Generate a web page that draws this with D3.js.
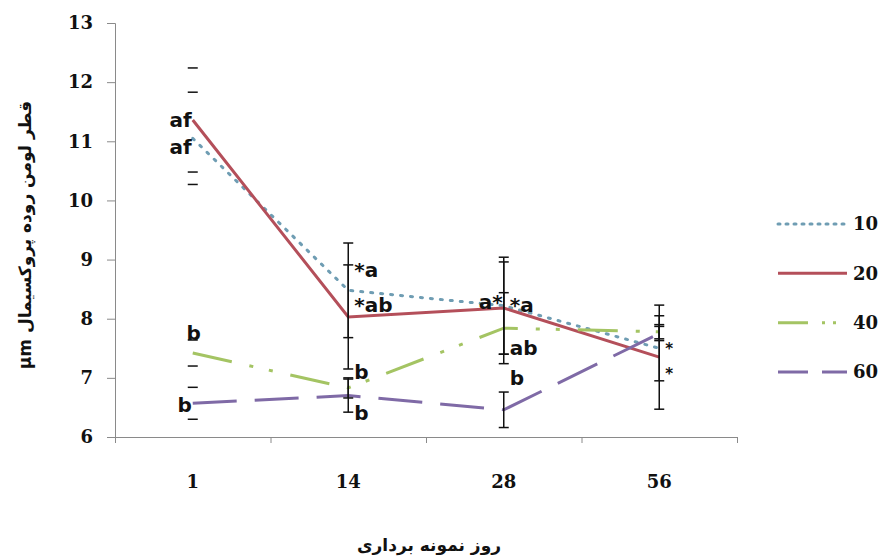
<!DOCTYPE html>
<html>
<head>
<meta charset="utf-8">
<script src="https://cdn.jsdelivr.net/npm/d3@7"></script>
<style>
  body { margin: 0; background: #fff; }
  svg { display: block; }
  .tick text { font-family: "DejaVu Serif", serif; font-weight: bold; fill: #111; }
  .sig { font-family: "DejaVu Sans", sans-serif; font-weight: bold; fill: #111; }
  .fa { font-family: "DejaVu Sans", sans-serif; font-weight: bold; fill: #111; }
</style>
</head>
<body>
<svg id="chart"></svg>
<script>
const days = ['1', '14', '28', '56']
const seriesNames = ['10', '20', '40', '60']

// mean lumen diameter per sampling day
const mean10 = [11.05, 8.48, 8.22, 7.5]
const mean20 = [11.36, 8.03, 8.18, 7.35]
const mean40 = [7.42, 6.83, 7.84, 7.78]
const mean60 = [6.57, 6.7, 6.46, 7.75]

// +/- error
const err10 = [0.78, 0.8, 0.82, 0.55]
const err20 = [0.88, 0.88, 0.78, 0.88]
const err40 = [0.22, 0.17, 0.6, 0.12]
const err60 = [0.27, 0.28, 0.3, 0.12]

const yTicks = [6, 7, 8, 9, 10, 11, 12, 13]

// significance letters: day, value where they sit, text, side of the bar
const sigDays   = ['1', '1', '1', '1', '14', '14', '14', '14', '28', '28', '28', '28', '56', '56']
const sigValues = [11.36, 10.9, 7.76, 6.54, 8.82, 8.23, 7.1, 6.41, 8.28, 8.23, 7.5, 7.0, 7.56, 7.14]
const sigTexts  = ['af', 'af', 'b', 'b', '*a', '*ab', 'b', 'b', 'a*', '*a', 'ab', 'b', '*', '*']
const sigSides  = ['left', 'left', 'mid', 'left', 'right', 'right', 'right', 'right', 'left', 'right', 'right', 'right', 'right', 'right']

const yTitle = 'قطر لومن روده پروکسیمال μm'
const xTitle = 'روز نمونه برداری'

const chart = {
  width: 884,
  height: 559,
  left: 115,
  right: 737,
  top: 23,
  bottom: 437
}

const colors = ['#6f9db3', '#b44f5a', '#a4c463', '#7f6aa6']
const dashes = ['2 8', null, '40 18 4 16 4 18', '44 18']
const legendDashes = ['2 6', null, '30 14 3 8 3 20', '30 14']

const series = seriesNames.map((name, k) => ({
  name,
  color: colors[k],
  values: days.map((d, i) => ({
    day: d,
    v: [mean10, mean20, mean40, mean60][k][i],
    e: [err10, err20, err40, err60][k][i]
  }))
}))

const svg = d3.select('#chart')
  .attr('width', chart.width)
  .attr('height', chart.height)

const x = d3.scaleBand()
  .domain(days)
  .range([chart.left, chart.right])
  .padding(0)
const xc = d => x(d) + x.bandwidth() / 2

const y = d3.scaleLinear()
  .domain([6, 13])
  .range([chart.bottom, chart.top])

// y axis
const yAxis = svg.append('g')
  .attr('transform', `translate(${chart.left},0)`)
  .call(d3.axisLeft(y).tickValues(yTicks).tickSize(8).tickPadding(14).tickFormat(d3.format('d')))
yAxis.selectAll('text').style('font-size', '18px')

// x axis: ticks at band edges, labels at band centers
const xEdge = d3.scaleLinear().domain([0, days.length]).range([chart.left, chart.right])
svg.append('g')
  .attr('transform', `translate(0,${chart.bottom})`)
  .call(d3.axisBottom(xEdge).tickValues(d3.range(days.length + 1)).tickSize(6).tickFormat(''))
const xAxis = svg.append('g')
  .attr('transform', `translate(0,${chart.bottom})`)
  .call(d3.axisBottom(x).tickSize(0).tickPadding(38))
xAxis.select('.domain').remove()
xAxis.selectAll('text').style('font-size', '18px')

svg.selectAll('.domain, .tick line').attr('stroke', '#8a8a8a')

// lines
const line = d3.line()
  .x(d => xc(d.day))
  .y(d => y(d.v))

svg.append('g')
  .selectAll('path')
  .data(series)
  .join('path')
  .attr('d', d => line(d.values))
  .attr('fill', 'none')
  .attr('stroke', d => d.color)
  .attr('stroke-width', 3)
  .attr('stroke-linecap', (d, i) => i === 0 ? 'round' : 'butt')
  .attr('stroke-dasharray', (d, i) => dashes[i])

// error bars
const bars = series.flatMap(s => s.values)
const eb = svg.append('g').attr('stroke', '#111').attr('stroke-width', 1.5)
eb.selectAll('line.stem')
  .data(bars.filter(d => d.day !== '1'))
  .join('line')
  .classed('stem', true)
  .attr('x1', d => xc(d.day))
  .attr('x2', d => xc(d.day))
  .attr('y1', d => y(d.v + d.e))
  .attr('y2', d => y(d.v - d.e))
eb.selectAll('line.capTop')
  .data(bars)
  .join('line')
  .classed('capTop', true)
  .attr('x1', d => xc(d.day) - 5)
  .attr('x2', d => xc(d.day) + 5)
  .attr('y1', d => y(d.v + d.e))
  .attr('y2', d => y(d.v + d.e))
eb.selectAll('line.capBot')
  .data(bars)
  .join('line')
  .classed('capBot', true)
  .attr('x1', d => xc(d.day) - 5)
  .attr('x2', d => xc(d.day) + 5)
  .attr('y1', d => y(d.v - d.e))
  .attr('y2', d => y(d.v - d.e))

// significance letters
svg.append('g')
  .selectAll('text')
  .data(sigTexts.map((t, i) => ({t, day: sigDays[i], v: sigValues[i], side: sigSides[i]})))
  .join('text')
  .classed('sig', true)
  .text(d => d.t)
  .attr('x', d => xc(d.day) + (d.side === 'left' ? -1 : d.side === 'right' ? 6 : 1))
  .attr('y', d => y(d.v))
  .attr('dy', d => d.t === '*' ? '0.6em' : '0.35em')
  .attr('text-anchor', d => d.side === 'left' ? 'end' : d.side === 'right' ? 'start' : 'middle')
  .style('font-size', d => d.t === '*' ? '15px' : '20px')

// legend
const legendY = d3.scalePoint().domain(seriesNames).range([224, 372])
const legend = svg.append('g')
  .selectAll('g')
  .data(series)
  .join('g')
  .attr('transform', d => `translate(778,${legendY(d.name)})`)
legend.append('line')
  .attr('x1', 0)
  .attr('x2', 69)
  .attr('stroke', d => d.color)
  .attr('stroke-width', 3)
  .attr('stroke-linecap', (d, i) => i === 0 ? 'round' : 'butt')
  .attr('stroke-dasharray', (d, i) => legendDashes[i])
legend.append('text')
  .attr('x', 75)
  .attr('dy', '0.36em')
  .text(d => d.name)
  .style('font-family', '"DejaVu Serif", serif')
  .style('font-weight', 'bold')
  .style('font-size', '18px')
  .style('fill', '#111')

// axis titles
svg.append('text')
  .classed('fa', true)
  .attr('transform', `translate(25,${(chart.top + chart.bottom) / 2 + 5}) rotate(-90)`)
  .attr('text-anchor', 'middle')
  .attr('direction', 'rtl')
  .attr('dy', '0.35em')
  .style('font-size', '17px')
  .text(yTitle)

svg.append('text')
  .classed('fa', true)
  .attr('x', (chart.left + chart.right) / 2 + 3)
  .attr('y', 545)
  .attr('text-anchor', 'middle')
  .attr('dy', '0.35em')
  .style('font-size', '17px')
  .text(xTitle)
</script>
</body>
</html>
